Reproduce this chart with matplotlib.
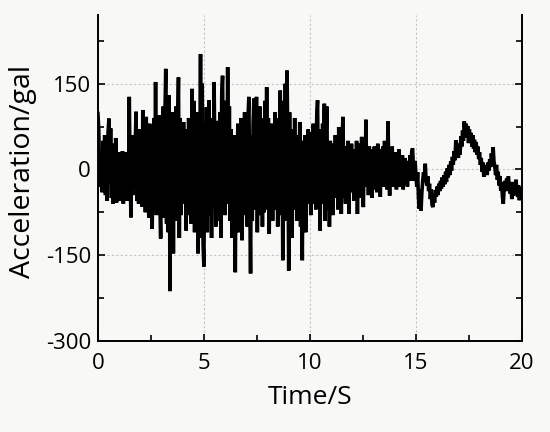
import numpy as np
import matplotlib
matplotlib.use("Agg")
import matplotlib.pyplot as plt
from matplotlib.ticker import MultipleLocator, FixedLocator

plt.rcParams['font.family'] = ['Open Sans', 'DejaVu Sans']
plt.rcParams['axes.unicode_minus'] = False

acc_s0 = [98, 70, -10, -30, 25, -40, 50, -20, 60, -45, 30, -55, 65, 89, -25, 72, -50, 45, -60, 35, -40, 55, -58, 20, -35]
acc_s1 = [30, -55, 25, -45, 32, -60, 28, -35, 30, -55, 20, -40, 127, -15, -84, 35, -45, 60, -35, 40, 101, -55, 45, -60, 70]
acc_s2 = [-40, 50, -65, 104, -30, 60, -75, 92, -50, 55, -85, 80, -60, 40, -104, 20, 90, -70, 153, -80, 60, -70, 95, -50, -121]
acc_s3 = [75, -60, 110, -85, 90, 176, -95, 60, -110, 130, -213, 50, -70, 100, -147, 80, -60, 110, -90, 70, 161, -120, 90, -80, 60]
acc_s4 = [-60, 83, -50, 70, -107, 55, -80, 90, -40, 75, -95, 141, -30, 120, -110, 60, -90, 100, -147, 40, -60, 202, -120, 150, -130]
acc_s5 = [-170, 80, -90, 109, -110, 60, 121, -80, 70, -120, 90, -60, 153, 10, -100, 60, -90, 85, -50, 100, -120, 130, 164, -40, 90]
acc_s6 = [-80, 120, -60, 179, -30, 110, -90, 70, -120, 40, -100, 60, -180, 30, -60, 80, -110, 55, -70, 90, -124, 40, -80, 100, -60]
acc_s7 = [70, -100, 90, 127, -40, -182, 60, -90, 80, 124, -70, 50, 127, -110, 40, -80, 110, -60, 90, -100, 60, -75, 120, -40, 144]
acc_s8 = [-70, 90, -113, 50, -60, 80, -90, 40, -70, 100, -50, 70, -100, 90, -60, 138, -80, 110, -159, 120, -90, 150, -60, 173, 30]
acc_s9 = [-177, 100, -80, 70, -120, 50, -60, 90, -70, 40, -90, 60, -40, 83, -100, 30, -159, 50, -70, 60, -110, 40, -60, 70, -50]
acc_s10 = [65, -80, 45, -60, 80, -40, 60, -70, 90, 121, -50, 70, -107, 40, -60, 80, -30, 115, -90, 60, 110, -70, 40, -100, 50]
acc_s11 = [-60, 45, -80, 30, -50, 60, -40, 50, -70, 74, -30, 40, -78, 60, 92, -50, 40, -60, 30, -45, 50, -78, 20, -40, 45]
acc_s12 = [-30, 35, -55, 25, -40, 50, -78, 20, -35, 45, -50, 57, -20, -66, 40, -30, 87, -25, 30, -45, 40, -20, 35, -50, 25]
acc_s13 = [-35, 40, -25, 30, -40, 45, -20, 25, -48, 35, -15, 40, -30, 50, -10, 30, -35, 84, 10, -46, 35, -20, 40, -30, 25]
acc_s14 = [-25, 30, -35, 20, -15, 35, -30, 15, -20, 25, -35, 10, 20, -25, 5, -30, 15, -10, 25, -20, 30, 37, 5, -20, 15]
acc_s15 = [-10, -30, -5, -50, -69, -35, -72, -40, -20, -5, -15, 10, -20, -28, -12, -38, -25, -52, -35, -62, -66, -45, -58, -36, -48]
acc_s16 = [-30, -45, -25, -38, -20, -34, -14, -30, -10, -26, -4, -22, 2, -14, 8, -10, 14, -2, 22, 8, 32, 16, 51, 24, 42]
acc_s17 = [20, 45, 26, 58, 40, 68, 50, 84, 62, 80, 56, 76, 46, 70, 50, 64, 40, 60, 36, 52, 30, 48, 26, 40, 18]
acc_s18 = [30, 8, 20, -4, 12, -13, 4, -6, 8, -10, 12, -2, 18, 4, 28, 10, 39, 14, 4, -10, 8, -18, -4, -28, -12]
acc_s19 = [-37, -22, -48, -60, -34, -20, -38, -16, -32, -12, -30, -42, -22, -52, -30, -46, -22, -40, -18, -38, -48, -28, -54, -32, -50, -40]

acc = (acc_s0 + acc_s1 + acc_s2 + acc_s3 + acc_s4 + acc_s5 + acc_s6 + acc_s7 + acc_s8 + acc_s9
       + acc_s10 + acc_s11 + acc_s12 + acc_s13 + acc_s14 + acc_s15 + acc_s16 + acc_s17 + acc_s18 + acc_s19)
dt = 0.04
time = np.arange(len(acc)) * dt

x_ticks = [0, 5, 10, 15, 20]
y_ticks = [-300, -150, 0, 150]

bg = '#f8f8f6'
fig = plt.figure(figsize=(5.5, 4.32), dpi=100, facecolor=bg)
ax = fig.add_axes([0.178, 0.211, 0.771, 0.754])
ax.set_facecolor(bg)

ax.plot(time, acc, color='black', linewidth=2.6, solid_joinstyle='miter')

ax.set_xlim(0, 20)
ax.set_ylim(-300, 270)
ax.set_xticks(x_ticks)
ax.set_yticks(y_ticks)
ax.xaxis.set_minor_locator(MultipleLocator(2.5))
ax.yaxis.set_minor_locator(FixedLocator([-225, -75, 75, 225]))

ax.grid(True, which='major', color='#c4c4c4', linestyle=(0, (2, 2)), linewidth=0.8)

for side in ['left', 'right', 'bottom']:
    ax.spines[side].set_linewidth(1.4)
    ax.spines[side].set_color('black')
ax.spines['top'].set_visible(False)

ax.tick_params(axis='both', which='both', direction='in', right=True, top=False,
               color='black')
ax.tick_params(axis='both', which='major', length=5, width=1.2, labelsize=16, pad=5)
ax.tick_params(axis='both', which='minor', length=4, width=1.2)
ax.tick_params(axis='x', which='major', pad=9)

ax.set_xlabel('Time/S', fontsize=19, labelpad=8)
ax.set_ylabel('Acceleration/gal', fontsize=20.5)
ax.yaxis.set_label_coords(-0.143, 0.52)

fig.savefig('out.png', dpi=100, facecolor=bg)
